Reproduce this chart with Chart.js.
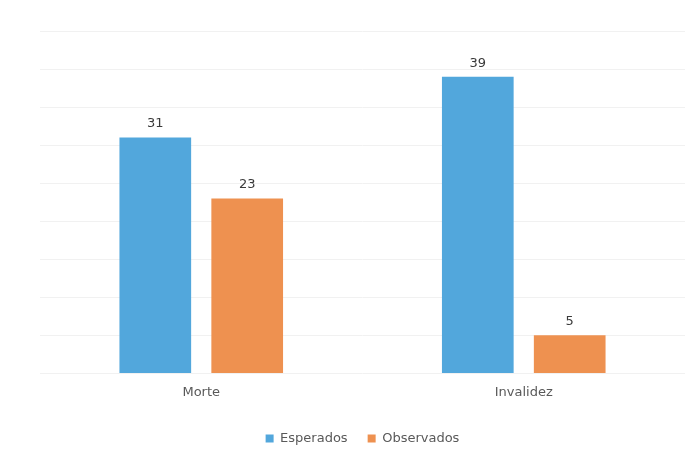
<!DOCTYPE html>
<html>
<head>
<meta charset="utf-8">
<script src="https://cdn.jsdelivr.net/npm/chart.js@4/dist/chart.umd.min.js"></script>
<style>
    body { margin: 0; background: #fff; }
    #chart { display: block; }
</style>
</head>
<body>
<canvas id="chart" width="691" height="462"></canvas>
<script>
    const categories = ['Morte', 'Invalidez'];
    const esperados = [31, 39];
    const observados = [23, 5];
    const yTicks = { min: 0, max: 45, step: 5 };

    const fontFamily = '"DejaVu Sans", sans-serif';

    // draws the value above every bar
    const valueLabels = {
        id: 'valueLabels',
        afterDatasetsDraw(chart) {
            const c = chart.ctx;
            c.save();
            c.font = '13px ' + fontFamily;
            c.fillStyle = '#3a3a3a';
            c.textAlign = 'center';
            c.textBaseline = 'bottom';
            chart.data.datasets.forEach((ds, i) => {
                chart.getDatasetMeta(i).data.forEach((bar, j) => {
                    c.fillText(ds.data[j], bar.x, bar.y - 7);
                });
            });
            c.restore();
        }
    };

    new Chart(document.getElementById('chart').getContext('2d'), {
        type: 'bar',
        data: {
            labels: categories,
            datasets: [
                { label: 'Esperados', data: esperados, backgroundColor: '#52a7dc' },
                { label: 'Observados', data: observados, backgroundColor: '#ee9150' }
            ]
        },
        options: {
            responsive: false,
            animation: false,
            categoryPercentage: 0.57,
            barPercentage: 0.78,
            layout: { padding: { left: 40, right: 6, top: 31, bottom: 7 } },
            scales: {
                x: {
                    grid: { display: false },
                    border: { display: false },
                    ticks: { color: '#595959', font: { family: fontFamily, size: 13 }, padding: 3 },
                    afterFit(scale) { scale.height += 9; }
                },
                y: {
                    min: yTicks.min,
                    max: yTicks.max,
                    ticks: { display: false, stepSize: yTicks.step },
                    grid: { color: '#f1f1f1', drawTicks: false },
                    border: { display: false }
                }
            },
            plugins: {
                legend: {
                    position: 'bottom',
                    labels: {
                        boxWidth: 8,
                        boxHeight: 8,
                        color: '#595959',
                        font: { family: fontFamily, size: 13 },
                        padding: 20
                    }
                },
                tooltip: { enabled: false }
            }
        },
        plugins: [valueLabels]
    });
</script>
</body>
</html>
